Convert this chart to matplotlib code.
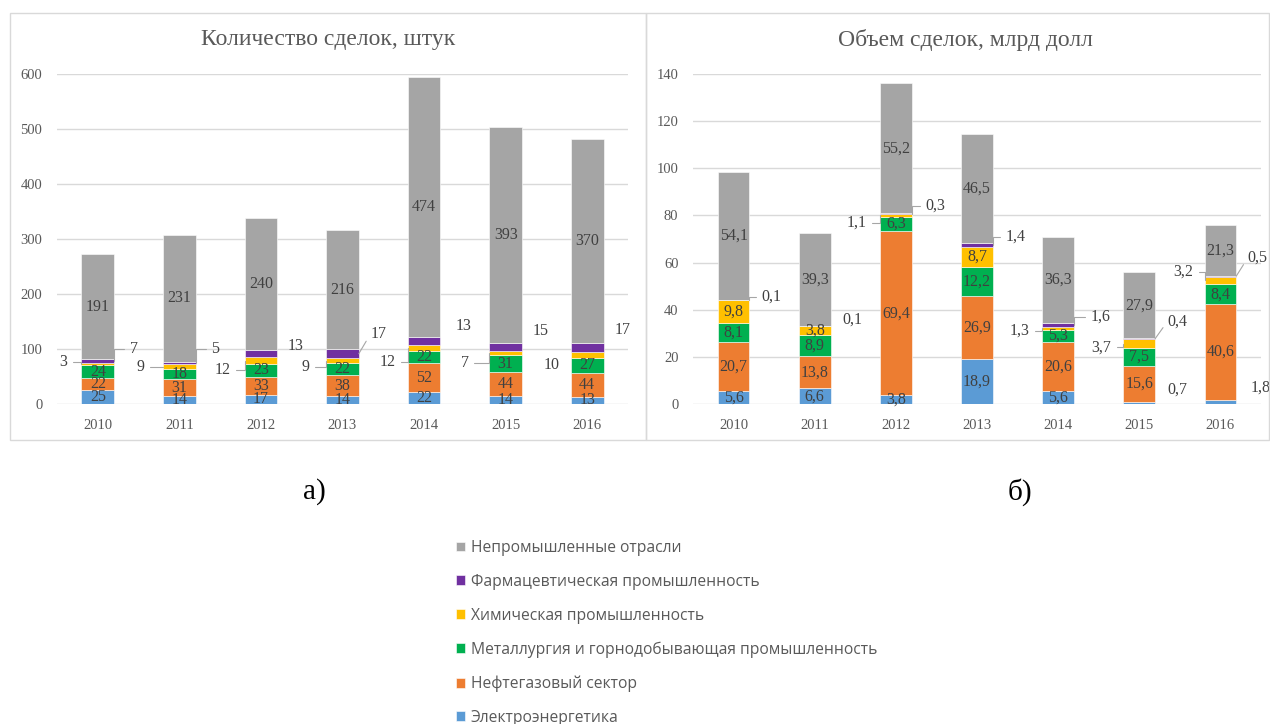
import matplotlib
matplotlib.use("Agg")
import matplotlib.pyplot as plt
from matplotlib.patches import Rectangle
import numpy as np

# ---------------- data ----------------
years = ['2010', '2011', '2012', '2013', '2014', '2015', '2016']
series_names = ['Электроэнергетика', 'Нефтегазовый сектор',
                'Металлургия и горнодобывающая промышленность',
                'Химическая промышленность', 'Фармацевтическая промышленность',
                'Непромышленные отрасли']
colors = ['#5B9BD5', '#ED7D31', '#00B050', '#FFC000', '#7030A0', '#A5A5A5']

count_elec = [25, 14, 17, 14, 22, 14, 13]
count_oil = [22, 31, 33, 38, 52, 44, 44]
count_metal = [24, 18, 23, 22, 22, 31, 27]
count_chem = [3, 9, 12, 9, 12, 7, 10]
count_pharm = [7, 5, 13, 17, 13, 15, 17]
count_non = [191, 231, 240, 216, 474, 393, 370]

vol_elec = [5.6, 6.6, 3.8, 18.9, 5.6, 0.7, 1.8]
vol_oil = [20.7, 13.8, 69.4, 26.9, 20.6, 15.6, 40.6]
vol_metal = [8.1, 8.9, 6.3, 12.2, 5.3, 7.5, 8.4]
vol_chem = [9.8, 3.8, 1.1, 8.7, 1.3, 3.7, 3.2]
vol_pharm = [0.1, 0.1, 0.3, 1.4, 1.6, 0.4, 0.5]
vol_non = [54.1, 39.3, 55.2, 46.5, 36.3, 27.9, 21.3]

count_ticks = [0, 100, 200, 300, 400, 500, 600]
vol_ticks = [0, 20, 40, 60, 80, 100, 120, 140]

# outside label placement (layout): (series, year) -> (dx, y, leader)
count_out = {
    (3, 0): (-0.42, 76, 'elbow'), (4, 0): (0.44, 100, 'elbow'),
    (3, 1): (-0.48, 67, 'elbow'), (4, 1): (0.44, 100, 'elbow'),
    (3, 2): (-0.47, 62, 'elbow'), (4, 2): (0.43, 105, None),
    (3, 3): (-0.45, 67, 'elbow'), (4, 3): (0.44, 127, 'straight'),
    (3, 4): (-0.45, 76, 'elbow'), (4, 4): (0.49, 142, None),
    (3, 5): (-0.50, 75, 'elbow'), (4, 5): (0.43, 133, None),
    (3, 6): (-0.44, 71, None), (4, 6): (0.44, 135, None),
}
vol_out = {
    (4, 0): (0.47, 45.4, 'elbow'),
    (4, 1): (0.47, 36, None),
    (3, 2): (-0.48, 77, 'elbow'), (4, 2): (0.49, 84, 'elbow'),
    (4, 3): (0.48, 71, 'elbow'),
    (3, 4): (-0.48, 31, 'elbow'), (4, 4): (0.52, 37, 'elbow'),
    (3, 5): (-0.47, 24, 'elbow'), (4, 5): (0.47, 35, 'straight'), (0, 5): (0.47, 6, None),
    (3, 6): (-0.46, 56, 'elbow'), (4, 6): (0.46, 62, 'straight'), (0, 6): (0.49, 7, None),
}

SERIF = 'Liberation Serif'
TXT = '#404040'
AX = '#595959'
GRID = '#D9D9D9'

W, H = 1270, 724
fig = plt.figure(figsize=(12.7, 7.24), dpi=100)


def px_axes(l, t, r, b):
    return fig.add_axes([l / W, 1 - b / H, (r - l) / W, (b - t) / H])


def draw_chart(ax, data, ticks, out, fmt, bar_w):
    x = np.arange(len(years))
    bottom = np.zeros(len(years))
    handles = []
    for si, vals in enumerate(data):
        vals = np.array(vals, dtype=float)
        h = ax.bar(x, vals, bar_w, bottom=bottom, color=colors[si],
                   edgecolor='white', linewidth=0.4, zorder=3,
                   label=series_names[si])
        handles.append(h)
        for yi in range(len(years)):
            mid = bottom[yi] + vals[yi] / 2
            lab = fmt(vals[yi])
            if (si, yi) in out:
                dx, ly, kind = out[(si, yi)]
                if kind is None:
                    ax.text(x[yi] + dx, ly, lab, ha='center', va='center',
                            fontsize=11.5, color=TXT, family=SERIF, zorder=5,
                            clip_on=False)
                else:
                    left = dx < 0
                    edge = x[yi] - bar_w / 2 if left else x[yi] + bar_w / 2
                    cs = 'angle,angleA=0,angleB=90,rad=0' if kind == 'elbow' else 'arc3'
                    ax.annotate(lab, xy=(edge, mid), xytext=(x[yi] + dx, ly),
                                ha='center', va='center', fontsize=11.5,
                                color=TXT, family=SERIF, zorder=5,
                                arrowprops=dict(arrowstyle='-', color='#A6A6A6',
                                                lw=0.8, shrinkA=2, shrinkB=0,
                                                relpos=(1, 0.5) if left else (0, 0.5),
                                                connectionstyle=cs))
            else:
                ax.text(x[yi], mid, lab, ha='center', va='center',
                        fontsize=11.5, color=TXT, family=SERIF, zorder=5)
        bottom += vals
    ax.set_xlim(-0.5, len(years) - 0.5)
    ax.set_ylim(ticks[0], ticks[-1])
    ax.set_yticks(ticks)
    ax.set_yticklabels([str(t) for t in ticks])
    ax.set_xticks(x)
    ax.set_xticklabels(years)
    for lbl in ax.get_xticklabels() + ax.get_yticklabels():
        lbl.set_family(SERIF)
        lbl.set_fontsize(10.5)
        lbl.set_color(AX)
    ax.tick_params(length=0)
    ax.tick_params(axis='y', pad=10.5)
    ax.tick_params(axis='x', pad=10.5)
    for s in ax.spines.values():
        s.set_visible(False)
    ax.yaxis.grid(True, color=GRID, lw=1, zorder=0)
    ax.set_axisbelow(True)
    return handles


ax1 = px_axes(57, 74, 628, 404)
handles = draw_chart(ax1, [count_elec, count_oil, count_metal, count_chem, count_pharm, count_non],
                     count_ticks, count_out, lambda v: f'{int(round(v))}', 0.4)

ax2 = px_axes(693, 74, 1261, 404)
draw_chart(ax2, [vol_elec, vol_oil, vol_metal, vol_chem, vol_pharm, vol_non],
           vol_ticks, vol_out, lambda v: f'{v:.1f}'.replace('.', ','), 0.39)

# panel borders
for (l, t, r, b) in [(10, 13, 646, 440), (646, 13, 1269, 440)]:
    fig.patches.append(Rectangle((l / W, 1 - b / H), (r - l) / W, (b - t) / H,
                                 transform=fig.transFigure, fill=False,
                                 edgecolor=GRID, lw=1))

fig.text(328 / W, 1 - 40 / H, 'Количество сделок, штук', ha='center', va='center',
         fontsize=17, color=AX, family=SERIF)
fig.text(965 / W, 1 - 40 / H, 'Объем сделок, млрд долл', ha='center', va='center',
         fontsize=17, color=AX, family=SERIF)

fig.text(314 / W, 1 - 492 / H, 'а)', ha='center', va='center', fontsize=21,
         color='black', family=SERIF)
fig.text(1020 / W, 1 - 492 / H, 'б)', ha='center', va='center', fontsize=21,
         color='black', family=SERIF)

leg = fig.legend(handles[::-1], series_names[::-1], loc='upper left',
                 bbox_to_anchor=(456 / W, 1 - 540 / H), frameon=False,
                 prop={'family': 'Open Sans', 'size': 11.25},
                 labelspacing=1.14, handlelength=0.6, handleheight=0.6,
                 handletextpad=0.35, borderpad=0, borderaxespad=0)
for t in leg.get_texts():
    t.set_color(AX)

fig.savefig('out.png', dpi=100)
